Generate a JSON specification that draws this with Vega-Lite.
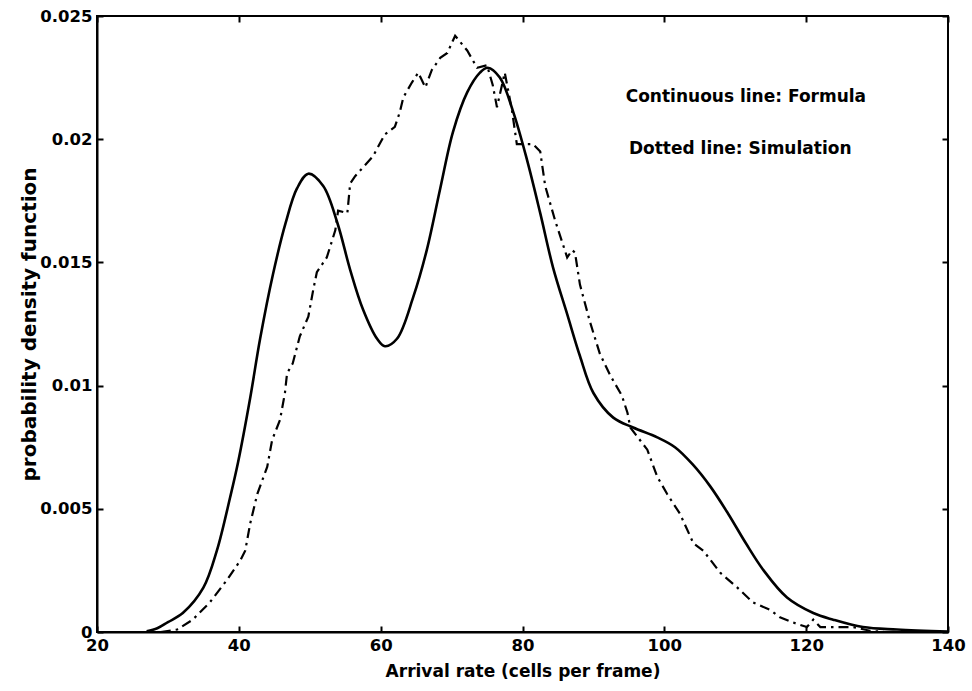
{
  "$schema": "https://vega.github.io/schema/vega-lite/v6.json",
  "width": 851,
  "height": 616,
  "autosize": {"type": "none"},
  "padding": {"left": 97, "top": 16, "right": 24, "bottom": 59},
  "background": "white",
  "config": {
    "view": {"stroke": "black", "strokeWidth": 2},
    "font": "DejaVu Sans",
    "axis": {
      "domainColor": "black", "domainWidth": 2, "tickColor": "black", "tickWidth": 2,
      "labelColor": "black", "titleColor": "black", "grid": false,
      "labelFont": "DejaVu Sans", "titleFont": "DejaVu Sans",
      "labelFontWeight": "bold", "titleFontWeight": "bold",
      "labelFontSize": 16.5, "titleFontSize": 17
    }
  },
  "datasets": {
    "formula": [
      {"x": 27, "v": 0.00003}, {"x": 28.5, "v": 0.00015}, {"x": 30, "v": 0.0004}, {"x": 32.1, "v": 0.00077},
      {"x": 35, "v": 0.0018}, {"x": 36.9, "v": 0.0033}, {"x": 38.8, "v": 0.0055}, {"x": 39.9, "v": 0.0069},
      {"x": 41.6, "v": 0.0095}, {"x": 43, "v": 0.0119}, {"x": 44.8, "v": 0.0145}, {"x": 46.6, "v": 0.0166},
      {"x": 48.2, "v": 0.018}, {"x": 49.8, "v": 0.0186}, {"x": 51.9, "v": 0.0181}, {"x": 53.9, "v": 0.0166},
      {"x": 55.7, "v": 0.0147}, {"x": 57.5, "v": 0.0131}, {"x": 59.5, "v": 0.0119}, {"x": 60.6, "v": 0.0116},
      {"x": 62.3, "v": 0.0119}, {"x": 64.6, "v": 0.0136}, {"x": 66.5, "v": 0.0155}, {"x": 68.4, "v": 0.018},
      {"x": 70.2, "v": 0.0203}, {"x": 72.2, "v": 0.0219}, {"x": 74, "v": 0.0227}, {"x": 75.1, "v": 0.0229},
      {"x": 76.8, "v": 0.0225}, {"x": 78.7, "v": 0.0211}, {"x": 80.6, "v": 0.0192}, {"x": 82.5, "v": 0.017},
      {"x": 84.3, "v": 0.0148}, {"x": 86.3, "v": 0.0129}, {"x": 88.1, "v": 0.0112}, {"x": 90, "v": 0.0097},
      {"x": 92.8, "v": 0.0087}, {"x": 95.6, "v": 0.0083}, {"x": 99, "v": 0.0079}, {"x": 101.5, "v": 0.0075},
      {"x": 104, "v": 0.0068}, {"x": 106.5, "v": 0.0059}, {"x": 109, "v": 0.0048}, {"x": 111.5, "v": 0.0036},
      {"x": 114, "v": 0.0025}, {"x": 117.3, "v": 0.0014}, {"x": 121, "v": 0.00077}, {"x": 123.8, "v": 0.0005},
      {"x": 128, "v": 0.0002}, {"x": 132.8, "v": 0.0001}, {"x": 140, "v": 0.00002}
    ],
    "simulation": [
      {"x": 29, "v": 0}, {"x": 31.3, "v": 0.0001}, {"x": 33.5, "v": 0.0005}, {"x": 35.9, "v": 0.0012},
      {"x": 38.3, "v": 0.0021}, {"x": 40.2, "v": 0.0029}, {"x": 40.9, "v": 0.0033}, {"x": 41.6, "v": 0.0044},
      {"x": 42.6, "v": 0.0056}, {"x": 44, "v": 0.0067}, {"x": 44.7, "v": 0.0078}, {"x": 45.8, "v": 0.0086},
      {"x": 46.5, "v": 0.0097}, {"x": 46.8, "v": 0.0105}, {"x": 47.6, "v": 0.0109}, {"x": 48.6, "v": 0.012},
      {"x": 49.8, "v": 0.0128}, {"x": 50.5, "v": 0.0139}, {"x": 51, "v": 0.0146}, {"x": 52.4, "v": 0.0152},
      {"x": 53.6, "v": 0.0163}, {"x": 54, "v": 0.0171}, {"x": 55.3, "v": 0.017}, {"x": 55.7, "v": 0.0182},
      {"x": 56.4, "v": 0.0185}, {"x": 58.9, "v": 0.0193}, {"x": 60.6, "v": 0.0202}, {"x": 62, "v": 0.0205},
      {"x": 62.7, "v": 0.0211}, {"x": 63.2, "v": 0.0217}, {"x": 64.4, "v": 0.0223}, {"x": 65.3, "v": 0.0227},
      {"x": 66.3, "v": 0.0221}, {"x": 67.2, "v": 0.0228}, {"x": 68.4, "v": 0.0233}, {"x": 69.4, "v": 0.0235},
      {"x": 70.5, "v": 0.0242}, {"x": 72.2, "v": 0.0236}, {"x": 73.6, "v": 0.0229}, {"x": 75, "v": 0.023},
      {"x": 75.8, "v": 0.0222}, {"x": 76.4, "v": 0.0213}, {"x": 77.5, "v": 0.0227}, {"x": 78.5, "v": 0.0212},
      {"x": 79.2, "v": 0.0198}, {"x": 81.5, "v": 0.0198}, {"x": 82.5, "v": 0.0195}, {"x": 83.2, "v": 0.0181},
      {"x": 84.6, "v": 0.0167}, {"x": 86.3, "v": 0.0152}, {"x": 87, "v": 0.0155}, {"x": 87.4, "v": 0.0154},
      {"x": 88.1, "v": 0.0141}, {"x": 89.5, "v": 0.0126}, {"x": 90.9, "v": 0.0113}, {"x": 92.4, "v": 0.0104},
      {"x": 94, "v": 0.0096}, {"x": 94.8, "v": 0.0089}, {"x": 95.2, "v": 0.0083}, {"x": 97.6, "v": 0.0074},
      {"x": 99, "v": 0.0063}, {"x": 100.4, "v": 0.0056}, {"x": 102.2, "v": 0.0048}, {"x": 104.1, "v": 0.0036},
      {"x": 105.5, "v": 0.0033}, {"x": 107.9, "v": 0.0024}, {"x": 110.3, "v": 0.0018}, {"x": 112.5, "v": 0.0012},
      {"x": 114.9, "v": 0.0009}, {"x": 116.3, "v": 0.0006}, {"x": 118, "v": 0.0004}, {"x": 120.1, "v": 0.0002},
      {"x": 121, "v": 0.0005}, {"x": 122, "v": 0.0002}, {"x": 123.8, "v": 0.0002}, {"x": 126.6, "v": 0.0002},
      {"x": 129, "v": 0.00005}, {"x": 131, "v": 0}
    ],
    "notes": [
      {"x": 111.5, "v": 0.0217, "label": "Continuous line: Formula"},
      {"x": 110.7, "v": 0.0196, "label": "Dotted line: Simulation"}
    ]
  },
  "layer": [
    {
      "data": {"name": "formula"},
      "mark": {"type": "line", "color": "black", "strokeWidth": 2.6, "interpolate": "catmull-rom", "clip": true},
      "encoding": {
        "x": {"field": "x", "type": "quantitative", "scale": {"domain": [20, 140], "nice": false},
          "axis": {"values": [20, 40, 60, 80, 100, 120, 140], "title": "Arrival rate (cells per frame)", "tickSize": -6, "labelPadding": 11, "titlePadding": 10, "labelFlush": false}},
        "y": {"field": "v", "type": "quantitative", "scale": {"domain": [0, 0.025], "nice": false},
          "axis": {"values": [0, 0.005, 0.01, 0.015, 0.02, 0.025], "format": "~g", "title": "probability density function", "titleFontSize": 20, "tickSize": -6, "labelPadding": 11, "titlePadding": 0, "labelFlush": false}}
      }
    },
    {
      "data": {"name": "simulation"},
      "mark": {"type": "line", "color": "black", "strokeWidth": 2.2, "strokeDash": [10, 5, 2.5, 5], "clip": true},
      "encoding": {
        "x": {"field": "x", "type": "quantitative", "scale": {"domain": [20, 140], "nice": false},
          "axis": {"orient": "top", "values": [20, 40, 60, 80, 100, 120, 140], "labels": false, "title": null, "tickSize": -6, "domain": false}},
        "y": {"field": "v", "type": "quantitative", "scale": {"domain": [0, 0.025], "nice": false},
          "axis": {"orient": "right", "values": [0, 0.005, 0.01, 0.015, 0.02, 0.025], "labels": false, "title": null, "tickSize": -6, "domain": false}}
      }
    },
    {
      "data": {"name": "notes"},
      "mark": {"type": "text", "font": "DejaVu Sans", "fontSize": 17, "fontWeight": "bold", "color": "black", "align": "center", "baseline": "middle"},
      "encoding": {
        "x": {"field": "x", "type": "quantitative", "scale": {"domain": [20, 140], "nice": false}, "axis": null},
        "y": {"field": "v", "type": "quantitative", "scale": {"domain": [0, 0.025], "nice": false}, "axis": null},
        "text": {"field": "label"}
      }
    }
  ],
  "resolve": {"axis": {"x": "independent", "y": "independent"}}
}
